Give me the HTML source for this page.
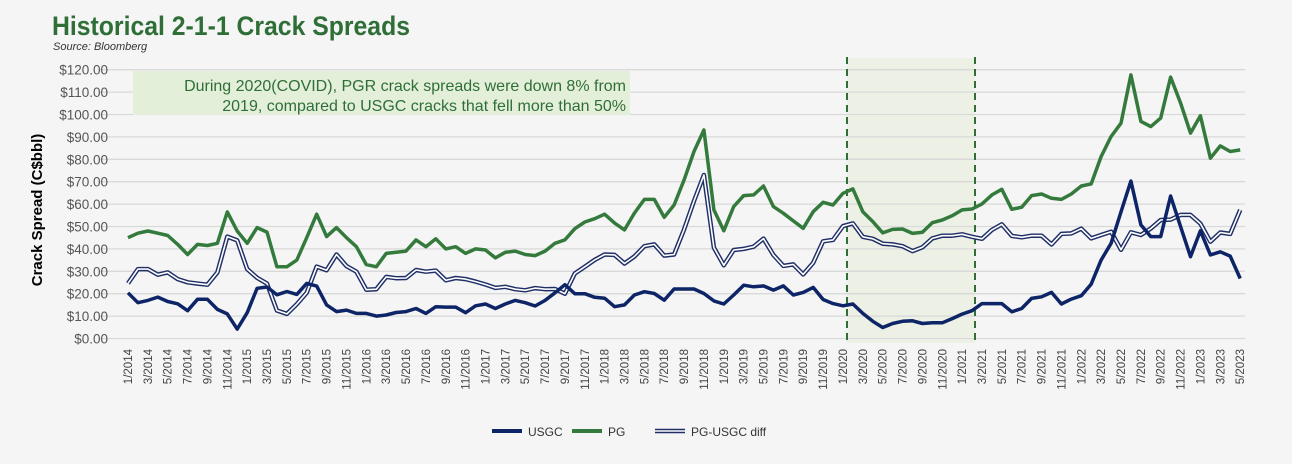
<!DOCTYPE html>
<html><head><meta charset="utf-8"><style>
html,body{margin:0;padding:0;background:#f5f5f5;}
body{width:1292px;height:464px;overflow:hidden;position:relative;font-family:"Liberation Sans",sans-serif;}
</style></head><body>
<svg id="c" width="1292" height="464" xmlns="http://www.w3.org/2000/svg" style="position:absolute;left:0;top:0">
<text x="52" y="35" font-family="'Liberation Sans Narrow','Liberation Sans',sans-serif" font-weight="bold" font-size="27" fill="#2f6f37" textLength="358" lengthAdjust="spacingAndGlyphs">Historical 2-1-1 Crack Spreads</text>
<text x="53" y="50" font-style="italic" font-size="11" fill="#333">Source: Bloomberg</text>
<rect x="847" y="58" width="128" height="285" fill="#ecf0e5"/>
<g id="grid"></g>
<rect x="133" y="71" width="497" height="44" fill="#e3efd9"/>
<text x="626" y="91" text-anchor="end" font-size="16" fill="#2f6f37">During 2020(COVID), PGR crack spreads were down 8% from</text>
<text x="626" y="111" text-anchor="end" font-size="16" fill="#2f6f37">2019, compared to USGC cracks that fell more than 50%</text>
<line x1="847" y1="57" x2="847" y2="345" stroke="#2f6f37" stroke-width="2" stroke-dasharray="7,5"/>
<line x1="975" y1="57" x2="975" y2="345" stroke="#2f6f37" stroke-width="2" stroke-dasharray="7,5"/>
<text transform="translate(42,210) rotate(-90)" text-anchor="middle" font-weight="bold" font-size="15" fill="#000">Crack Spread (C$bbl)</text>
<g id="series"></g>
<g id="xl"></g>
<line x1="492" y1="431" x2="522" y2="431" stroke="#0d2466" stroke-width="4"/>
<text x="528" y="436" font-size="12" fill="#333">USGC</text>
<line x1="572" y1="431" x2="602" y2="431" stroke="#347a3c" stroke-width="4"/>
<text x="608" y="436" font-size="12" fill="#333">PG</text>
<line x1="655" y1="431" x2="685" y2="431" stroke="#1f2f66" stroke-width="4.5"/>
<line x1="655" y1="431" x2="685" y2="431" stroke="#fff" stroke-width="1.6"/>
<text x="691" y="436" font-size="12" fill="#333">PG-USGC diff</text>
</svg>
<script>
var NS="http://www.w3.org/2000/svg";
function el(t,a,p,txt){var e=document.createElementNS(NS,t);for(var k in a)e.setAttribute(k,a[k]);if(txt!=null)e.textContent=txt;p.appendChild(e);return e;}
var y0=338.5,dy=2.24;
function Y(v){return y0-v*dy;}
function X(i){return 128+i*9.93;}
var g=document.getElementById('grid');
for(var k=0;k<=12;k++){var v=k*10;el('line',{x1:100,x2:1245,y1:Y(v),y2:Y(v),stroke:'#d9d9d9','stroke-width':1.3},g);
el('text',{x:108,y:Y(v)+5,'text-anchor':'end','font-size':13.5,fill:'#555'},g,'$'+v+'.00');}
var xl=document.getElementById('xl');
for(var i=0;i<=112;i+=2){var m=(i%12)+1,yr=2014+Math.floor(i/12);
el('text',{transform:'translate('+(X(i)+4)+',349) rotate(-90)','text-anchor':'end','font-size':11.5,fill:'#444'},xl,m+'/'+yr);}
var us=[20.4,16,17,18.5,16.5,15.5,12.4,17.5,17.5,13,11,4.2,11.5,22.4,23,19.5,21,19.7,24.6,23.4,15,12,12.7,11.2,11.2,10,10.5,11.6,12,13.4,11.2,14.2,14,14,11.5,14.6,15.4,13.4,15.4,17,16,14.5,17,20.4,24,20,20,18.4,18,14.2,15,19.4,
20.9,20.1,17.1,22.1,22.1,22.1,20.1,16.8,15.4,19.4,23.8,23.1,23.5,21.6,23.5,19.4,20.6,22.8,17.4,15.6,14.6,15.4,11.2,7.7,4.9,6.7,7.7,7.9,6.7,7,7,8.9,10.9,12.4,15.6,15.6,15.6,11.9,13.4,17.9,18.6,20.6,15.4,17.6,19.1,24.3,35,42.5,56.5,70.3,50.7,45.5,45.5,63.6,49.9,36.5,48.1,37.3,38.7,36.8,26.8];
var pg=[45,47,48,47,46,42,37.5,42,41.5,42.5,56.5,48,42.5,49.5,47.5,32,32,35,45,55.5,45.5,49.5,45,41,33,32,38,38.5,39,44,41,44.5,40,41,38,40,39.5,36,38.5,39,37.5,37,39,42.5,44,49,52,53.5,55.5,51.5,48.5,56,
62.1,62.1,54.1,59.6,70.8,83.5,93.1,57.4,48.1,58.9,63.8,64.1,68.1,58.9,55.9,52.5,49.2,56.6,60.8,59.6,64.8,66.8,56.6,52.2,47.2,48.7,48.9,46.9,47.4,51.7,52.9,54.8,57.4,57.8,60.1,64.1,66.6,57.7,58.6,63.8,64.5,62.6,62.1,64.5,68.1,69,81.2,90.2,96.1,117.7,96.9,94.6,98.4,116.7,105.1,91.7,99.4,80.5,86,83.5,84.2];
function path(a){var s='';for(var i=0;i<a.length;i++)s+=(i?'L':'M')+X(i).toFixed(1)+','+Y(a[i]).toFixed(1);return s;}
var diff=pg.map(function(v,i){return v-us[i];});
var S=document.getElementById('series');
el('path',{d:path(diff),fill:'none',stroke:'#1f2f66','stroke-width':4.5,'stroke-linejoin':'round'},S);
el('path',{d:path(diff),fill:'none',stroke:'#fff','stroke-width':1.6,'stroke-linejoin':'round'},S);
el('path',{d:path(pg),fill:'none',stroke:'#347a3c','stroke-width':3.5,'stroke-linejoin':'round'},S);
el('path',{d:path(us),fill:'none',stroke:'#0d2466','stroke-width':3.5,'stroke-linejoin':'round'},S);
</script>
</body></html>
